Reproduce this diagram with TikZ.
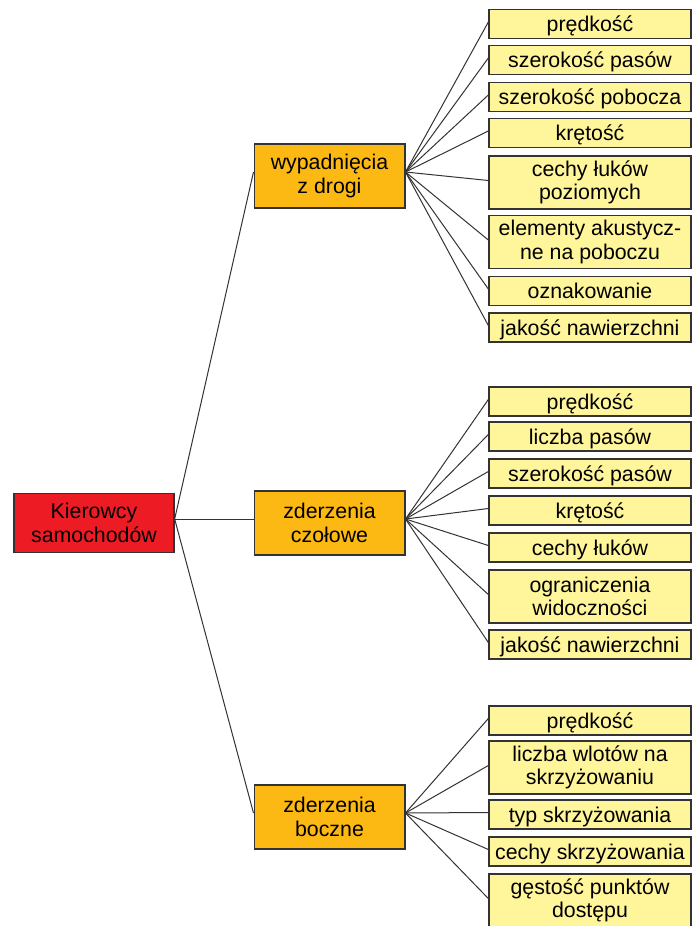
\documentclass[tikz,border=0pt]{standalone}
\usepackage{fontspec}
\setmainfont{Liberation Sans}
\definecolor{kolczerw}{HTML}{ED1C24}
\definecolor{kolpom}{HTML}{FDB913}
\definecolor{kolzolt}{HTML}{FFF59B}
\definecolor{kolram}{HTML}{333333}

\begin{document}
\begin{tikzpicture}[x = 0.75pt, y = -0.75pt,
		every node/.style = {font = \fontsize{16}{17.5}\selectfont, align = center, inner sep = 0pt},
		korzen/.style = {draw = kolram, line width = 1pt, fill = kolczerw, minimum width = 120pt, minimum height = 44pt},
		grupa/.style = {draw = kolram, line width = 1pt, fill = kolpom, minimum width = 113pt, minimum height = 48pt},
		lisc2/.style = {draw = kolram, line width = 1pt, fill = kolzolt, minimum width = 151.5pt, minimum height = 39.75pt},
		lisc/.style = {lisc2, minimum height = 21.75pt, text height = 11.5pt, text depth = 0pt},
		polacz/.style = {draw = kolram, line width = 0.75pt}]
		\useasboundingbox (0,0) rectangle (696,926);
		%
		\node (k) [korzen] at (94,523) {Kierowcy\\samochodów};
		%
		\node (g1) [grupa] at (329.5,176) {wypadnięcia\\z drogi};
		\node (g2) [grupa] at (329.5,523) {zderzenia\\czołowe};
		\node (g3) [grupa] at (329.5,817) {zderzenia\\boczne};
		%
		\node (a1) [lisc] at (590,24) {prędkość};
		\node (a2) [lisc] at (590,60) {szerokość pasów};
		\node (a3) [lisc] at (590,97) {szerokość pobocza};
		\node (a4) [lisc] at (590,133) {krętość};
		\node (a5) [lisc2] at (590,182.5) {cechy łuków\\poziomych};
		\node (a6) [lisc2] at (590,242) {elementy akustycz-\\ne na poboczu};
		\node (a7) [lisc] at (590,291) {oznakowanie};
		\node (a8) [lisc] at (590,327.5) {jakość nawierzchni};
		%
		\node (b1) [lisc] at (590,401.5) {prędkość};
		\node (b2) [lisc] at (590,436.5) {liczba pasów};
		\node (b3) [lisc] at (590,473.5) {szerokość pasów};
		\node (b4) [lisc] at (590,510.5) {krętość};
		\node (b5) [lisc] at (590,547.5) {cechy łuków};
		\node (b6) [lisc2] at (590,596.5) {ograniczenia\\widoczności};
		\node (b7) [lisc] at (590,644.5) {jakość nawierzchni};
		%
		\node (c1) [lisc] at (590,720.5) {prędkość};
		\node (c2) [lisc2] at (590,767.5) {liczba wlotów na\\skrzyżowaniu};
		\node (c3) [lisc] at (590,814.5) {typ skrzyżowania};
		\node (c4) [lisc] at (590,851.5) {cechy skrzyżowania};
		\node (c5) [lisc2] at (590,900.5) {gęstość punktów\\dostępu};
		%
		\foreach \g in {g1,g2,g3}{
				\draw [polacz] ([yshift = 3pt]k.east) -- ([yshift = 3pt]\g.west);
			}
		\foreach \l in {a1,a2,a3,a4,a5,a6,a7,a8}{
				\draw [polacz] ([yshift = 3pt]g1.east) -- ([yshift = 1.5pt]\l.west);
			}
		\foreach \l in {b1,b2,b3,b4,b5,b6,b7}{
				\draw [polacz] ([yshift = 3pt]g2.east) -- ([yshift = 1.5pt]\l.west);
			}
		\foreach \l in {c1,c2,c3,c4,c5}{
				\draw [polacz] ([yshift = 3pt]g3.east) -- ([yshift = 1.5pt]\l.west);
			}
	\end{tikzpicture}
\end{document}
